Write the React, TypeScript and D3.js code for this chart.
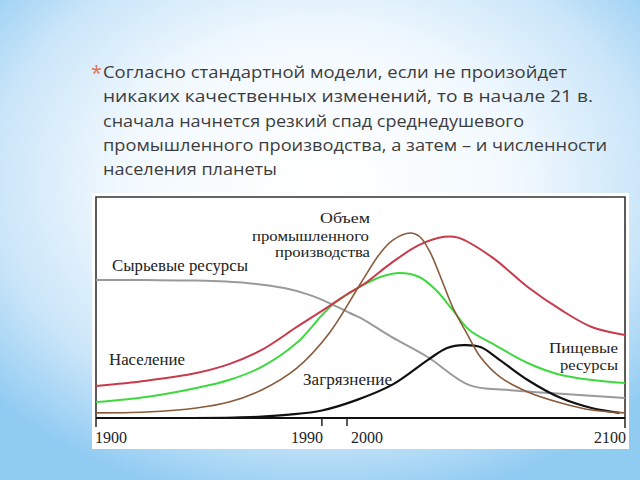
import React from "react";
import * as d3 from "d3";

// ---- data (years, relative level 0..100) ----
const TICK_YEARS = [1900, 1990, 2000, 2100];

const RESOURCES: [number, number][] = [
  [1900, 62.4], [1920, 62.4], [1940, 62.2], [1960, 61.1], [1975, 58.8], [1985, 55.7],
  [1993, 52.0], [2001, 47.5], [2005, 45.2], [2016, 36.7], [2029, 27.6], [2044, 14.9],
  [2058, 12.7], [2073, 11.3], [2100, 9.0],
];

const POPULATION: [number, number][] = [
  [1900, 14.5], [1920, 16.9], [1940, 20.4], [1953, 24.4], [1966, 30.8], [1980, 41.2],
  [1990, 48.5], [1995, 52.2], [2000, 56.0], [2006, 60.5], [2016, 70.2], [2026, 78.3],
  [2035, 82.0], [2040, 81.6], [2052, 72.9], [2065, 59.3], [2077, 48.9], [2088, 41.2],
  [2100, 37.6],
];

const FOOD: [number, number][] = [
  [1900, 7.2], [1920, 9.5], [1940, 13.6], [1953, 17.2], [1966, 23.1], [1980, 34.0],
  [1990, 46.5], [1995, 52.0], [2000, 55.8], [2006, 60.3], [2012, 63.8], [2019, 65.6],
  [2026, 63.8], [2032, 57.9], [2038, 48.9], [2044, 39.8], [2052, 33.9], [2065, 24.9],
  [2077, 19.5], [2100, 15.8],
];

const INDUSTRY: [number, number][] = [
  [1900, 2.3], [1920, 2.7], [1940, 4.5], [1953, 7.2], [1966, 12.7], [1980, 22.6],
  [1993, 38.5], [2005, 61.1], [2012, 74.7], [2016.5, 80.5], [2022.7, 83.7], [2026.3, 81.9],
  [2030, 74.7], [2034.5, 61.1], [2038, 50.2], [2043, 38.5], [2048, 27.6], [2055, 18.6],
  [2065, 11.8], [2077, 6.8], [2088, 3.6], [2100, 2.3],
];

const POLLUTION: [number, number][] = [
  [1935, 0], [1955, 0.2], [1966, 0.6], [1977, 1.5], [1990, 3.4], [2003.6, 8.2],
  [2016.5, 15.2], [2029, 26.2], [2036, 31.7], [2042, 33.0], [2048, 32.1], [2055, 26.2],
  [2065, 17.2], [2077, 9.0], [2088, 4.5], [2098, 2.3],
];

const TITLE_LINES = [
  "Согласно стандартной модели, если не произойдет",
  "никаких качественных изменений, то в начале 21 в.",
  "сначала начнется резкий спад среднедушевого",
  "промышленного производства, а затем – и численности",
  "населения планеты",
];
const TITLE_WIDTHS = [464, 490, 421, 504, 174];

export default function App() {
  const x = d3.scaleLinear().domain([1900, 2000, 2100]).range([96, 347, 625]);
  const y = d3.scaleLinear().domain([0, 100]).range([418, 197]);
  const line = d3
    .line<[number, number]>()
    .x((d) => x(d[0]))
    .y((d) => Math.min(y(0), y(d[1])))
    .curve(d3.curveCatmullRom.alpha(0.5));

  const series = [
    { data: RESOURCES, color: "#9a9a9a", w: 2 },
    { data: FOOD, color: "#3fd83f", w: 2 },
    { data: POPULATION, color: "#c83a4c", w: 2 },
    { data: POLLUTION, color: "#111111", w: 2.2 },
    { data: INDUSTRY, color: "#8a5a3a", w: 1.6 },
  ];

  const serif = "'Liberation Serif', 'DejaVu Serif', serif";
  const labels = [
    { t: "Сырьевые ресурсы", x: 112, y: 271, w: 136, fs: 16.5 },
    { t: "Население", x: 109, y: 365, w: 76, fs: 16.5 },
    { t: "Загрязнение", x: 303, y: 385, w: 89, fs: 16.5 },
    { t: "Объем", x: 320, y: 223, w: 50, fs: 15 },
    { t: "промышленного", x: 252, y: 240.5, w: 117, fs: 14.5 },
    { t: "производства", x: 275, y: 257, w: 95, fs: 14.5 },
    { t: "Пищевые", x: 549, y: 353, w: 69, fs: 14.5 },
    { t: "ресурсы", x: 560, y: 369.5, w: 58, fs: 14.5 },
  ];

  const tickLabel = (yr: number) => {
    if (yr === 1900) return { x: x(yr) - 1, a: "start" };
    if (yr === 1990) return { x: x(yr) + 1, a: "end" };
    if (yr === 2000) return { x: x(yr) + 4, a: "start" };
    return { x: x(yr) + 1, a: "end" };
  };

  return (
    <svg
      width={640}
      height={480}
      style={{ position: "absolute", left: 0, top: 0, display: "block" }}
    >
      <defs>
        <radialGradient id="bg" cx="50%" cy="38%" r="68%">
          <stop offset="0%" stopColor="#ffffff" />
          <stop offset="45%" stopColor="#f2f9fe" />
          <stop offset="75%" stopColor="#cbe6f9" />
          <stop offset="100%" stopColor="#90cbf2" />
        </radialGradient>
      </defs>
      <rect x={0} y={0} width={640} height={480} fill="url(#bg)" />

      {/* title */}
      <text x={91} y={80} fontSize={20} fill="#e0704a" fontFamily="'Open Sans', sans-serif">
        *
      </text>
      {TITLE_LINES.map((t, i) => (
        <text
          key={i}
          x={103}
          y={78 + i * 24.3}
          fontSize={17}
          fill="#3d3d3d"
          fontFamily="'Open Sans', 'Noto Sans', sans-serif"
          textLength={TITLE_WIDTHS[i]}
          lengthAdjust="spacingAndGlyphs"
        >
          {t}
        </text>
      ))}

      {/* chart box */}
      <rect x={92} y={193} width={537} height={256} fill="#ffffff" />
      <path
        d={`M${x(1900)},${y(0) + 9}V${y(100)}H${x(2100)}V${y(0) + 10}`}
        fill="none"
        stroke="#333"
        strokeWidth={1.6}
      />

      {series.map((s, i) => (
        <path key={i} d={line(s.data) || ""} fill="none" stroke={s.color} strokeWidth={s.w} />
      ))}

      <line x1={x(1900)} x2={x(2100)} y1={y(0)} y2={y(0)} stroke="#111" strokeWidth={2} />
      {TICK_YEARS.filter((t) => t === 1990 || t === 2000).map((t) => (
        <line key={t} x1={x(t)} x2={x(t)} y1={y(0)} y2={y(0) + 8} stroke="#222" strokeWidth={1.5} />
      ))}
      {TICK_YEARS.map((t) => {
        const p = tickLabel(t);
        return (
          <text key={t} x={p.x} y={443} fontSize={16} fontFamily={serif} fill="#222" textAnchor={p.a as any}>
            {t}
          </text>
        );
      })}

      {labels.map((l, i) => (
        <text
          key={i}
          x={l.x}
          y={l.y}
          fontSize={l.fs}
          fontFamily={serif}
          fill="#222"
          textLength={l.w}
          lengthAdjust="spacingAndGlyphs"
        >
          {l.t}
        </text>
      ))}
    </svg>
  );
}
